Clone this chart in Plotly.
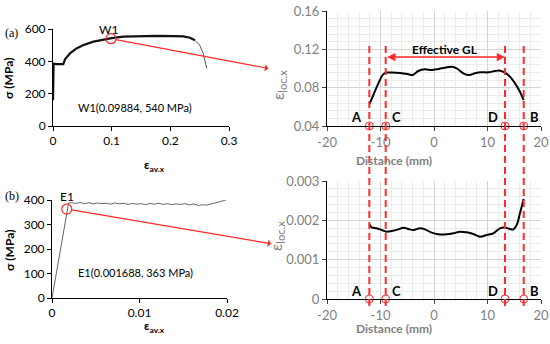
import plotly.graph_objects as go

# ---------------- data ----------------
# (a) stress-strain, W1 specimen
w1_strain = [0.0, 0.001, 0.006, 0.012, 0.0176, 0.0205, 0.029, 0.040, 0.052, 0.069, 0.086, 0.100,
             0.120, 0.148, 0.177, 0.205, 0.222, 0.2335, 0.242]
w1_stress = [160, 385, 383, 382, 383, 412, 449, 480, 501, 522, 536, 544,
             553, 557, 557, 556, 554, 546, 530]
w1_tail_strain = [0.242, 0.250, 0.256, 0.260, 0.262]
w1_tail_stress = [530, 501, 449, 398, 357]
w1_point = (0.09884, 540)

# (b) stress-strain, E1 specimen
e1_strain = [0.0, 0.0019, 0.0022, 0.0027, 0.0032, 0.0037, 0.0042, 0.0047, 0.0052, 0.0057,
             0.0062, 0.0067, 0.0072, 0.0077, 0.0082, 0.0087, 0.0092, 0.0097, 0.0102,
             0.0107, 0.0112, 0.0117, 0.0122, 0.0127, 0.0132, 0.0137, 0.0142, 0.0147,
             0.0152, 0.0157, 0.0162, 0.0167, 0.0172, 0.0177, 0.0182, 0.0187, 0.0192,
             0.0197, 0.0200]
e1_stress = [0, 388, 389, 386, 390, 385, 389, 384, 388, 385, 387, 383, 388, 384, 387,
             382, 386, 383, 385, 381, 386, 383, 387, 382, 385, 381, 384, 382, 385,
             380, 384, 378, 381, 379, 384, 388, 392, 398, 402]
e1_point = (0.001688, 363)

# local strain profiles
dist_w1 = [-12.09, -11.34, -10.4, -9.6, -9.03, -7.9, -6.36, -4.98, -3.99, -2.93, -1.68,
           -0.44, 0.81, 2.06, 3.30, 4.24, 5.48, 6.6, 7.66, 8.91, 10.16, 11.4, 12.34,
           13.27, 14.2, 15.14, 16.07, 16.76]
eloc_w1 = [0.0626, 0.0723, 0.0845, 0.0932, 0.0957, 0.0957, 0.0953, 0.0943, 0.0932, 0.0974,
           0.0991, 0.0984, 0.0995, 0.1009, 0.1019, 0.1002, 0.0950, 0.0932, 0.0950, 0.0960,
           0.0960, 0.0974, 0.0977, 0.0957, 0.0915, 0.0845, 0.0758, 0.0671]

dist_e1 = [-12.09, -11.65, -10.72, -9.78, -8.85, -7.91, -6.67, -5.73, -4.80, -3.86, -2.62,
           -1.68, -0.44, 0.81, 2.37, 3.61, 4.86, 6.11, 7.35, 8.60, 9.84, 11.09, 12.34,
           13.27, 14.2, 14.83, 15.45, 16.07, 16.76]
eloc_e1 = [0.001898, 0.001822, 0.001797, 0.001754, 0.001712, 0.001729, 0.001771, 0.001814,
           0.001780, 0.001754, 0.001797, 0.001771, 0.001686, 0.001644, 0.001644, 0.001669,
           0.001712, 0.001695, 0.001653, 0.001585, 0.001627, 0.001669, 0.001797, 0.001814,
           0.001780, 0.001771, 0.001881, 0.002178, 0.002542]

marker_names = ["A", "C", "D", "B"]
marker_pos = [-12.09, -9.03, 13.27, 16.77]

dist_ticks = [-20, -10, 0, 10, 20]
dist_ticktext = ["-20", "-10", "0", "10", "20"]

RED = "#ff2a2a"
GRAY = "#7f7f7f"
FONT = "Lato"

fig = go.Figure()

# (a) left
fig.add_trace(go.Scatter(x=w1_strain, y=w1_stress, mode="lines",
                         line=dict(color="#111", width=2.2), xaxis="x", yaxis="y"))
fig.add_trace(go.Scatter(x=w1_tail_strain, y=w1_tail_stress, mode="lines",
                         line=dict(color="#555", width=1), xaxis="x", yaxis="y"))
fig.add_trace(go.Scatter(x=[w1_point[0]], y=[w1_point[1]], mode="markers",
                         marker=dict(symbol="circle-open", size=10, color=RED, line=dict(width=1.2)),
                         xaxis="x", yaxis="y", cliponaxis=False))
# (b) left
fig.add_trace(go.Scatter(x=e1_strain, y=e1_stress, mode="lines",
                         line=dict(color="#555", width=0.9), xaxis="x3", yaxis="y3"))
fig.add_trace(go.Scatter(x=[e1_point[0]], y=[e1_point[1]], mode="markers",
                         marker=dict(symbol="circle-open", size=10, color=RED, line=dict(width=1.2)),
                         xaxis="x3", yaxis="y3", cliponaxis=False))
# right profiles
fig.add_trace(go.Scatter(x=dist_w1, y=eloc_w1, mode="lines",
                         line=dict(color="#000", width=2, shape="spline"), xaxis="x2", yaxis="y2"))
fig.add_trace(go.Scatter(x=dist_e1, y=eloc_e1, mode="lines",
                         line=dict(color="#000", width=2, shape="spline"), xaxis="x4", yaxis="y4"))
fig.add_trace(go.Scatter(x=marker_pos, y=[0.04] * len(marker_pos), mode="markers",
                         marker=dict(symbol="circle-open", size=8, color=RED, line=dict(width=1)),
                         xaxis="x2", yaxis="y2", cliponaxis=False))
fig.add_trace(go.Scatter(x=marker_pos, y=[0] * len(marker_pos), mode="markers",
                         marker=dict(symbol="circle-open", size=8, color=RED, line=dict(width=1)),
                         xaxis="x4", yaxis="y4", cliponaxis=False))

W, H = 550, 344
def xd(a, b):
    return [a / W, b / W]
def yd(top, bot):
    return [1 - bot / H, 1 - top / H]
def px(x):
    return x / W
def py(y):
    return 1 - y / H

left_ax = dict(showline=True, linecolor="#000", linewidth=1, ticks="outside", ticklen=4,
               tickcolor="#000", showgrid=False, zeroline=False, automargin=False,
               tickfont=dict(family=FONT, size=12, color="#000"))
right_ax = dict(showline=True, linecolor="#000", linewidth=1, ticks="outside", ticklen=4,
                tickcolor="#444", showgrid=True, gridcolor="#d4d4d4", gridwidth=1, zeroline=False,
                automargin=False, tickfont=dict(family=FONT, size=13, color=GRAY))

fig.update_layout(
    width=W, height=H, margin=dict(l=0, r=0, t=0, b=0), autosize=False,
    paper_bgcolor="white", plot_bgcolor="white", showlegend=False,
    font=dict(family=FONT),
    xaxis=dict(**left_ax, domain=xd(53, 229), range=[0, 0.3], dtick=0.1, anchor="y"),
    yaxis=dict(**left_ax, domain=yd(29, 126), range=[0, 600], dtick=200, anchor="x"),
    xaxis3=dict(**left_ax, domain=xd(52, 227), range=[0, 0.02], dtick=0.01, anchor="y3"),
    yaxis3=dict(**left_ax, domain=yd(200, 298), range=[0, 400], dtick=100, anchor="x3"),
    xaxis2=dict(**right_ax, domain=xd(327, 541), range=[-20, 20], tickvals=dist_ticks,
                ticktext=dist_ticktext, anchor="y2",
                minor=dict(dtick=2, showgrid=True, gridcolor="#ececec")),
    yaxis2=dict(**right_ax, domain=yd(11, 126), range=[0.04, 0.16], dtick=0.04, tick0=0, anchor="x2",
                minor=dict(dtick=0.008, showgrid=True, gridcolor="#ececec")),
    xaxis4=dict(**right_ax, domain=xd(327, 541), range=[-20, 20], tickvals=dist_ticks,
                ticktext=dist_ticktext, anchor="y4",
                minor=dict(dtick=2, showgrid=True, gridcolor="#ececec")),
    yaxis4=dict(**right_ax, domain=yd(181, 299), range=[0, 0.003], dtick=0.001, anchor="x4",
                minor=dict(dtick=0.0002, showgrid=True, gridcolor="#ececec")),
)

# dashed red vertical lines spanning both right panels
for p in marker_pos:
    fig.add_shape(type="line", xref="x2", yref="paper", x0=p, x1=p,
                  y0=py(306), y1=py(44),
                  line=dict(color=RED, width=2, dash="7px,4px"), layer="above")

ann = []
# axis titles
for (x, y) in ((9, 78), (9, 250)):
    ann.append(dict(x=px(x), y=py(y), xref="paper", yref="paper", text="<b>σ (MPa)</b>",
                    textangle=-90, xanchor="center", yanchor="middle", showarrow=False,
                    font=dict(family=FONT, size=12, color="#000")))
for (x, y) in ((142, 165), (142, 337)):
    ann.append(dict(x=px(x), y=py(y), xref="paper", yref="paper", text="<b>ε<sub>av.x</sub></b>",
                    showarrow=False, font=dict(family=FONT, size=12, color="#000")))
for (x, y) in ((278, 68), (276, 253)):
    ann.append(dict(x=px(x), y=py(y), xref="paper", yref="paper", text="ε<sub>loc.x</sub>",
                    textangle=-90, showarrow=False, font=dict(family=FONT, size=16, color=GRAY)))
for (x, y) in ((434, 161), (434, 338)):
    ann.append(dict(x=px(x), y=py(y), xref="paper", yref="paper", text="<b>Distance (mm)</b>",
                    showarrow=False, font=dict(family=FONT, size=12, color=GRAY)))
# A/C/D/B labels
shifts = {"A": ("right", -5), "C": ("left", 4), "D": ("right", -5), "B": ("left", 4)}
for name, p in zip(marker_names, marker_pos):
    anc, sh = shifts[name]
    for xr, yr, yv in (("x2", "y2", 0.0494), ("x4", "y4", 0.0002)):
        ann.append(dict(x=p, y=yv, xref=xr, yref=yr, text=f"<b>{name}</b>", showarrow=False,
                        xanchor=anc, xshift=sh, yanchor="middle",
                        font=dict(family=FONT, size=13, color="#000")))
# effective GL arrow
ann.append(dict(x=marker_pos[2], y=0.112, ax=marker_pos[1], ay=0.112, xref="x2", yref="y2",
                axref="x2", ayref="y2", text="", showarrow=True, arrowside="end+start",
                arrowhead=2, arrowsize=1.1, arrowwidth=1.5, arrowcolor=RED))
ann.append(dict(x=2.0, y=0.1195, xref="x2", yref="y2", text="<b>Effective GL</b>", showarrow=False,
                font=dict(family=FONT, size=12, color="#000")))
# W1 / E1 labels and arrows
ann.append(dict(x=w1_point[0], y=w1_point[1], xref="x", yref="y", text="W1", showarrow=False,
                yshift=9, xshift=-2, font=dict(family=FONT, size=12, color="#000")))
ann.append(dict(x=0.14, y=117, xref="x", yref="y", text="W1(0.09884, 540 MPa)", showarrow=False,
                font=dict(family=FONT, size=11, color="#000")))
ann.append(dict(x=w1_point[0], y=w1_point[1], xref="x", yref="y", ax=159, ay=30, text="",
                showarrow=True, arrowside="start", arrowhead=2, arrowsize=1, arrowwidth=1.2,
                arrowcolor=RED, standoff=5))
ann.append(dict(x=e1_point[0], y=e1_point[1], xref="x3", yref="y3", text="E1", showarrow=False,
                yshift=13, xshift=0, font=dict(family=FONT, size=12, color="#000")))
ann.append(dict(x=0.0095, y=106, xref="x3", yref="y3", text="E1(0.001688, 363 MPa)", showarrow=False,
                font=dict(family=FONT, size=11, color="#000")))
ann.append(dict(x=e1_point[0], y=e1_point[1], xref="x3", yref="y3", ax=206, ay=35, text="",
                showarrow=True, arrowside="start", arrowhead=2, arrowsize=1, arrowwidth=1.2,
                arrowcolor=RED, standoff=5))
# panel letters
ann.append(dict(x=px(3), y=py(24), xref="paper", yref="paper", text="(a)", showarrow=False,
                xanchor="left", font=dict(family="Liberation Serif", size=12, color="#000")))
ann.append(dict(x=px(3), y=py(196), xref="paper", yref="paper", text="(b)", showarrow=False,
                xanchor="left", font=dict(family="Liberation Serif", size=12, color="#000")))
fig.update_layout(annotations=ann)

fig.write_html("out.html", config={"displayModeBar": False},
               post_script="document.body.style.margin='0';")
